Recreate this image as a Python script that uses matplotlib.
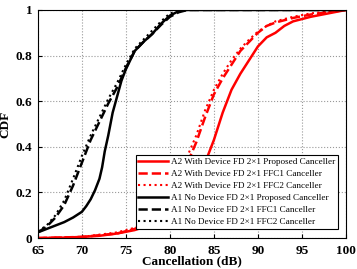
import matplotlib
matplotlib.use('Agg')
import matplotlib.pyplot as plt

plt.rcParams['font.family'] = ['Liberation Serif', 'DejaVu Serif']

# A1 No Device (black curves)
x_bp = [65, 66, 67, 68, 69, 70, 70.5, 71, 71.5, 72, 72.3, 72.6, 73, 73.5, 74, 74.5, 75, 75.5, 76, 76.5, 77, 78, 79, 80, 81, 82, 100]
y_bp = [0.025, 0.04, 0.055, 0.07, 0.09, 0.115, 0.14, 0.17, 0.21, 0.26, 0.31, 0.38, 0.45, 0.55, 0.62, 0.69, 0.74, 0.78, 0.82, 0.84, 0.86, 0.895, 0.94, 0.975, 0.995, 1.0, 1.0]
x_b1 = [65, 66, 67, 68, 69, 70, 71, 72, 73, 74, 75, 76, 77, 78, 79, 80, 81, 82, 100]
y_b1 = [0.025, 0.05, 0.09, 0.145, 0.23, 0.33, 0.43, 0.51, 0.59, 0.66, 0.745, 0.82, 0.86, 0.895, 0.935, 0.97, 0.99, 1.0, 1.0]
x_b2 = [65, 66, 67, 68, 69, 70, 71, 72, 73, 74, 75, 76, 77, 78, 79, 80, 81, 82, 100]
y_b2 = [0.03, 0.055, 0.10, 0.165, 0.26, 0.36, 0.45, 0.53, 0.61, 0.68, 0.76, 0.83, 0.87, 0.91, 0.95, 0.985, 0.995, 1.0, 1.0]

# A2 With Device (red curves)
x_rp = [65, 68, 70, 72, 74, 76, 78, 80, 82, 83, 84, 85, 86, 87, 88, 89, 90, 91, 92, 93, 94, 96, 98, 100]
y_rp = [0, 0.002, 0.005, 0.01, 0.02, 0.035, 0.06, 0.1, 0.18, 0.25, 0.33, 0.43, 0.55, 0.65, 0.72, 0.78, 0.84, 0.88, 0.9, 0.93, 0.95, 0.97, 0.985, 1.0]
x_r1 = [65, 70, 74, 76, 78, 80, 81, 82, 83, 84, 85, 86, 87, 88, 89, 90, 91, 92, 94, 96, 98, 100]
y_r1 = [0, 0.005, 0.02, 0.04, 0.08, 0.17, 0.25, 0.33, 0.42, 0.53, 0.63, 0.7, 0.76, 0.82, 0.86, 0.9, 0.93, 0.945, 0.965, 0.98, 0.99, 1.0]
x_r2 = [65, 70, 74, 76, 78, 80, 81, 82, 83, 84, 85, 86, 87, 88, 89, 90, 91, 92, 94, 96, 98, 100]
y_r2 = [0, 0.005, 0.025, 0.045, 0.09, 0.19, 0.27, 0.36, 0.45, 0.56, 0.65, 0.72, 0.78, 0.83, 0.87, 0.905, 0.93, 0.95, 0.97, 0.985, 0.993, 1.0]

fig = plt.figure(figsize=(3.57, 2.69), dpi=100)
ax = fig.add_axes([0.106, 0.115, 0.863, 0.848])

ax.plot(x_rp, y_rp, color='red', lw=1.8, ls='-', label='A2 With Device FD 2\u00d71 Proposed Canceller')
ax.plot(x_r1, y_r1, color='red', lw=1.8, ls='--', label='A2 With Device FD 2\u00d71 FFC1 Canceller')
ax.plot(x_r2, y_r2, color='red', lw=1.5, ls=':', label='A2 With Device FD 2\u00d71 FFC2 Canceller')
ax.plot(x_bp, y_bp, color='black', lw=1.8, ls='-', label='A1 No Device FD 2\u00d71 Proposed Canceller')
ax.plot(x_b1, y_b1, color='black', lw=1.8, ls='--', label='A1 No Device FD 2\u00d71 FFC1 Canceller')
ax.plot(x_b2, y_b2, color='black', lw=1.5, ls=':', label='A1 No Device FD 2\u00d71 FFC2 Canceller')

ax.set_xlim(65, 100)
ax.set_ylim(0, 1)
ax.set_xticks([65, 70, 75, 80, 85, 90, 95, 100])
ax.set_yticks([0, 0.2, 0.4, 0.6, 0.8, 1])
ax.set_yticklabels(['0', '0.2', '0.4', '0.6', '0.8', '1'])
ax.tick_params(direction='in', length=3, labelsize=9.5)
ax.tick_params(axis='x', pad=5)
ax.tick_params(axis='y', pad=4)
for lab in ax.get_xticklabels() + ax.get_yticklabels():
    lab.set_fontweight('bold')
ax.grid(True, ls=':', color='#999999', lw=0.8)
ax.set_xlabel('Cancellation (dB)', fontsize=9.5, fontweight='bold', labelpad=-1)
ax.set_ylabel('CDF', fontsize=9.5, fontweight='bold', labelpad=3)

leg = ax.legend(loc='lower right', bbox_to_anchor=(0.99, 0.02), fontsize=6.6,
                fancybox=False, edgecolor='black', framealpha=1,
                handlelength=3.2, borderpad=0.3, labelspacing=0.4, handletextpad=0.4)
leg.get_frame().set_linewidth(0.8)

fig.savefig('out.png', dpi=100)
